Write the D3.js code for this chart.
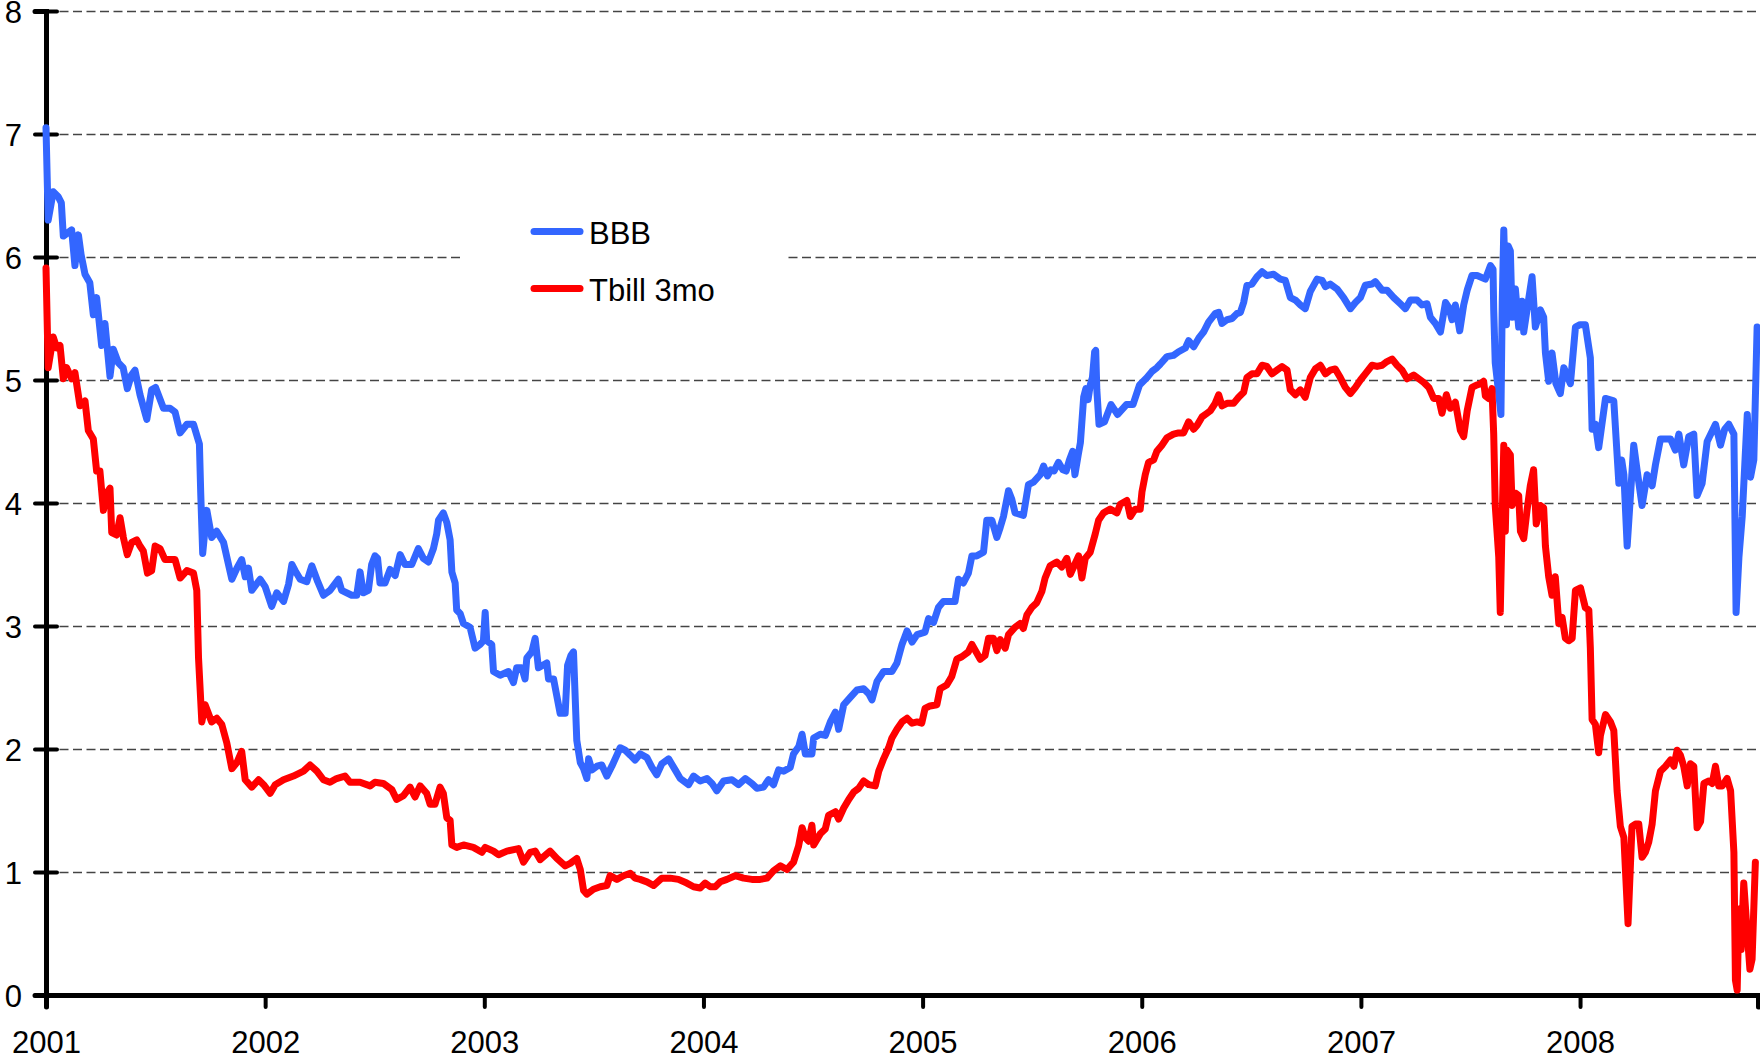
<!DOCTYPE html>
<html>
<head>
<meta charset="utf-8">
<script src="https://cdn.jsdelivr.net/npm/d3@7"></script>
<style>
  html, body { margin: 0; padding: 0; background: #fff; }
  svg { display: block; font-family: "Liberation Sans", Arial, sans-serif; }
</style>
</head>
<body>
<div id="chart"></div>
<script>
// ============================================
// BBB vs 3-month T-bill yields, 2001-2008
// ============================================

// x: decimal year, y: percent
const bbbYears = [
  2001.00, 2001.01, 2001.033, 2001.056, 2001.07, 2001.079, 2001.117, 2001.132, 2001.148, 2001.16,
  2001.178, 2001.20, 2001.216, 2001.231, 2001.254, 2001.269, 2001.292, 2001.307, 2001.33, 2001.352,
  2001.371, 2001.39, 2001.406, 2001.429, 2001.46, 2001.482, 2001.50, 2001.536, 2001.566, 2001.589,
  2001.612, 2001.643, 2001.673, 2001.70, 2001.706, 2001.715, 2001.734, 2001.756, 2001.779, 2001.81,
  2001.848, 2001.871, 2001.893, 2001.909, 2001.924, 2001.939, 2001.977, 2002.00, 2002.03, 2002.053,
  2002.084, 2002.107, 2002.122, 2002.137, 2002.16, 2002.19, 2002.213, 2002.24, 2002.266, 2002.296,
  2002.334, 2002.349, 2002.395, 2002.418, 2002.433, 2002.448, 2002.471, 2002.486, 2002.501, 2002.513,
  2002.524, 2002.547, 2002.57, 2002.593, 2002.616, 2002.638, 2002.669, 2002.699, 2002.722, 2002.745,
  2002.768, 2002.783, 2002.791, 2002.813, 2002.829, 2002.844, 2002.852, 2002.867, 2002.874, 2002.89,
  2002.905, 2002.935, 2002.958, 2002.981, 2002.996, 2003.004, 2003.011, 2003.034, 2003.042, 2003.072,
  2003.11, 2003.133, 2003.148, 2003.171, 2003.186, 2003.194, 2003.217, 2003.232, 2003.247, 2003.285,
  2003.293, 2003.316, 2003.331, 2003.346, 2003.369, 2003.38, 2003.395, 2003.407, 2003.422, 2003.438,
  2003.453, 2003.468, 2003.476, 2003.491, 2003.514, 2003.536, 2003.559, 2003.582, 2003.605, 2003.62,
  2003.643, 2003.666, 2003.688, 2003.711, 2003.742, 2003.765, 2003.787, 2003.81, 2003.841, 2003.871,
  2003.894, 2003.932, 2003.955, 2003.985, 2004.016, 2004.039, 2004.061, 2004.092, 2004.13, 2004.16,
  2004.191, 2004.221, 2004.244, 2004.274, 2004.297, 2004.32, 2004.343, 2004.366, 2004.396, 2004.411,
  2004.435, 2004.45, 2004.465, 2004.495, 2004.503, 2004.533, 2004.556, 2004.579, 2004.602, 2004.617,
  2004.64, 2004.67, 2004.701, 2004.731, 2004.754, 2004.769, 2004.792, 2004.822, 2004.86, 2004.883,
  2004.906, 2004.929, 2004.952, 2004.975, 2005.011, 2005.027, 2005.05, 2005.072, 2005.095, 2005.126,
  2005.148, 2005.164, 2005.186, 2005.209, 2005.225, 2005.247, 2005.278, 2005.293, 2005.316, 2005.339,
  2005.354, 2005.369, 2005.392, 2005.407, 2005.422, 2005.46, 2005.483, 2005.506, 2005.537, 2005.552,
  2005.57, 2005.585, 2005.60, 2005.62, 2005.64, 2005.655, 2005.67, 2005.685, 2005.695, 2005.71,
  2005.72, 2005.735, 2005.745, 2005.755, 2005.765, 2005.775, 2005.785, 2005.79, 2005.795, 2005.805,
  2005.83, 2005.86, 2005.89, 2005.93, 2005.96, 2005.99, 2006.024, 2006.047, 2006.069, 2006.085,
  2006.115, 2006.145, 2006.168, 2006.199, 2006.214, 2006.237, 2006.26, 2006.282, 2006.305, 2006.335,
  2006.351, 2006.366, 2006.389, 2006.412, 2006.434, 2006.45, 2006.465, 2006.48, 2006.503, 2006.526,
  2006.549, 2006.571, 2006.602, 2006.632, 2006.655, 2006.678, 2006.701, 2006.724, 2006.746, 2006.769,
  2006.80, 2006.823, 2006.838, 2006.86, 2006.891, 2006.921, 2006.952, 2006.975, 2006.998, 2007.02,
  2007.051, 2007.066, 2007.097, 2007.119, 2007.15, 2007.18, 2007.203, 2007.226, 2007.256, 2007.279,
  2007.302, 2007.317, 2007.34, 2007.363, 2007.386, 2007.401, 2007.416, 2007.431, 2007.451, 2007.469,
  2007.485, 2007.507, 2007.53, 2007.568, 2007.591, 2007.603, 2007.606, 2007.613, 2007.629, 2007.639,
  2007.645, 2007.652, 2007.664, 2007.672, 2007.682, 2007.69, 2007.705, 2007.72, 2007.735, 2007.743,
  2007.758, 2007.781, 2007.796, 2007.819, 2007.834, 2007.842, 2007.857, 2007.872, 2007.89, 2007.91,
  2007.926, 2007.956, 2007.979, 2008.00, 2008.024, 2008.047, 2008.055, 2008.07, 2008.085, 2008.116,
  2008.154, 2008.177, 2008.19, 2008.20, 2008.215, 2008.245, 2008.26, 2008.283, 2008.306, 2008.329,
  2008.344, 2008.367, 2008.39, 2008.413, 2008.435, 2008.451, 2008.473, 2008.496, 2008.519, 2008.534,
  2008.557, 2008.58, 2008.618, 2008.641, 2008.66, 2008.679, 2008.702, 2008.712, 2008.725, 2008.74,
  2008.763, 2008.778, 2008.793, 2008.808
];
const bbbValues = [
  7.05, 6.30, 6.53, 6.49, 6.44, 6.17, 6.22, 5.93, 6.18, 6.02,
  5.86, 5.79, 5.53, 5.67, 5.28, 5.46, 5.03, 5.25, 5.14, 5.10,
  4.93, 5.04, 5.08, 4.88, 4.68, 4.92, 4.94, 4.77, 4.77, 4.74,
  4.57, 4.64, 4.64, 4.48, 4.08, 3.59, 3.94, 3.72, 3.77, 3.68,
  3.38, 3.47, 3.54, 3.40, 3.47, 3.29, 3.38, 3.32, 3.16, 3.27,
  3.20, 3.34, 3.50, 3.45, 3.38, 3.36, 3.49, 3.36, 3.25, 3.29,
  3.38, 3.29, 3.25, 3.25, 3.44, 3.27, 3.29, 3.50, 3.57, 3.55,
  3.35, 3.35, 3.46, 3.41, 3.58, 3.50, 3.50, 3.63, 3.55, 3.52,
  3.63, 3.75, 3.86, 3.92, 3.84, 3.70, 3.44, 3.35, 3.13, 3.10,
  3.02, 2.99, 2.82, 2.85, 2.88, 3.11, 2.88, 2.85, 2.63, 2.60,
  2.63, 2.54, 2.66, 2.66, 2.57, 2.74, 2.79, 2.90, 2.66, 2.70,
  2.57, 2.57, 2.43, 2.29, 2.29, 2.68, 2.76, 2.79, 2.07, 1.89,
  1.84, 1.76, 1.92, 1.83, 1.86, 1.87, 1.78, 1.86, 1.95, 2.01,
  1.99, 1.95, 1.91, 1.96, 1.93, 1.85, 1.79, 1.88, 1.92, 1.83,
  1.76, 1.71, 1.78, 1.74, 1.76, 1.72, 1.66, 1.74, 1.75, 1.71,
  1.76, 1.72, 1.68, 1.69, 1.75, 1.71, 1.83, 1.82, 1.85, 1.96,
  2.02, 2.12, 1.96, 1.96, 2.09, 2.12, 2.11, 2.22, 2.30, 2.16,
  2.36, 2.42, 2.48, 2.49, 2.45, 2.40, 2.55, 2.63, 2.63, 2.70,
  2.85, 2.96, 2.87, 2.93, 2.95, 3.06, 3.03, 3.15, 3.20, 3.20,
  3.20, 3.38, 3.35, 3.43, 3.57, 3.57, 3.60, 3.86, 3.86, 3.72,
  3.80, 3.89, 4.10, 4.03, 3.92, 3.90, 4.15, 4.17, 4.23, 4.30,
  4.22, 4.27, 4.26, 4.33, 4.27, 4.26, 4.35, 4.42, 4.23, 4.39,
  4.49, 4.86, 4.93, 4.84, 4.96, 5.02, 5.23, 5.24, 4.92, 4.64,
  4.66, 4.80, 4.72, 4.80, 4.80, 4.96, 5.02, 5.07, 5.10, 5.13,
  5.19, 5.20, 5.23, 5.26, 5.32, 5.27, 5.34, 5.39, 5.47, 5.54,
  5.55, 5.46, 5.49, 5.50, 5.54, 5.55, 5.63, 5.77, 5.78, 5.84,
  5.88, 5.85, 5.86, 5.82, 5.81, 5.67, 5.65, 5.61, 5.58, 5.72,
  5.82, 5.81, 5.76, 5.78, 5.74, 5.67, 5.58, 5.63, 5.67, 5.77,
  5.78, 5.80, 5.73, 5.73, 5.67, 5.62, 5.58, 5.65, 5.65, 5.61,
  5.62, 5.51, 5.46, 5.39, 5.63, 5.59, 5.49, 5.61, 5.40, 5.61,
  5.73, 5.85, 5.85, 5.82, 5.93, 5.90, 5.57, 5.14, 4.89, 4.72,
  5.64, 6.22, 5.45, 6.09, 6.05, 5.51, 5.74, 5.43, 5.64, 5.39,
  5.57, 5.84, 5.43, 5.57, 5.51, 5.22, 4.99, 5.22, 4.97, 4.89,
  5.10, 4.97, 5.43, 5.45, 5.45, 5.18, 4.60, 4.64, 4.45, 4.85,
  4.83, 4.16, 4.35, 4.23, 3.65, 4.47, 4.27, 3.98, 4.23, 4.14,
  4.31, 4.52, 4.52, 4.52, 4.43, 4.56, 4.31, 4.54, 4.56, 4.06,
  4.16, 4.50, 4.64, 4.47, 4.60, 4.64, 4.56, 3.11, 3.56, 3.89,
  4.72, 4.21, 4.35, 5.43
];

const tbillYears = [
  2001.00, 2001.01, 2001.033, 2001.049, 2001.064, 2001.079, 2001.094, 2001.117, 2001.132, 2001.155,
  2001.178, 2001.193, 2001.216, 2001.231, 2001.246, 2001.262, 2001.277, 2001.292, 2001.30, 2001.322,
  2001.338, 2001.353, 2001.371, 2001.391, 2001.414, 2001.429, 2001.444, 2001.463, 2001.482, 2001.498,
  2001.52, 2001.543, 2001.566, 2001.589, 2001.612, 2001.643, 2001.673, 2001.688, 2001.696, 2001.711,
  2001.726, 2001.756, 2001.779, 2001.802, 2001.825, 2001.848, 2001.871, 2001.893, 2001.909, 2001.939,
  2001.97, 2001.993, 2002.023, 2002.046, 2002.084, 2002.129, 2002.175, 2002.205, 2002.236, 2002.266,
  2002.296, 2002.326, 2002.364, 2002.387, 2002.433, 2002.479, 2002.501, 2002.539, 2002.578, 2002.60,
  2002.631, 2002.661, 2002.684, 2002.707, 2002.737, 2002.753, 2002.775, 2002.798, 2002.813, 2002.829,
  2002.844, 2002.852, 2002.874, 2002.905, 2002.95, 2002.989, 2003.004, 2003.042, 2003.065, 2003.103,
  2003.156, 2003.179, 2003.209, 2003.232, 2003.255, 2003.30, 2003.331, 2003.369, 2003.392, 2003.422,
  2003.438, 2003.453, 2003.468, 2003.498, 2003.529, 2003.559, 2003.574, 2003.605, 2003.635, 2003.666,
  2003.688, 2003.711, 2003.742, 2003.772, 2003.81, 2003.848, 2003.886, 2003.924, 2003.955, 2003.985,
  2004.008, 2004.031, 2004.054, 2004.077, 2004.107, 2004.145, 2004.183, 2004.221, 2004.259, 2004.29,
  2004.32, 2004.351, 2004.381, 2004.411, 2004.434, 2004.45, 2004.465, 2004.48, 2004.495, 2004.503,
  2004.533, 2004.556, 2004.571, 2004.602, 2004.617, 2004.64, 2004.663, 2004.686, 2004.708, 2004.731,
  2004.754, 2004.784, 2004.80, 2004.822, 2004.845, 2004.86, 2004.883, 2004.906, 2004.929, 2004.952,
  2004.975, 2004.996, 2005.011, 2005.034, 2005.065, 2005.08, 2005.11, 2005.133, 2005.156, 2005.179,
  2005.209, 2005.225, 2005.247, 2005.263, 2005.285, 2005.301, 2005.323, 2005.339, 2005.354, 2005.377,
  2005.392, 2005.422, 2005.445, 2005.46, 2005.476, 2005.498, 2005.521, 2005.544, 2005.559, 2005.582,
  2005.612, 2005.635, 2005.658, 2005.674, 2005.689, 2005.712, 2005.727, 2005.742, 2005.765, 2005.788,
  2005.803, 2005.826, 2005.856, 2005.887, 2005.902, 2005.932, 2005.948, 2005.97, 2005.993, 2006.001,
  2006.016, 2006.031, 2006.054, 2006.069, 2006.092, 2006.115, 2006.145, 2006.168, 2006.191, 2006.214,
  2006.237, 2006.252, 2006.275, 2006.298, 2006.313, 2006.335, 2006.351, 2006.366, 2006.389, 2006.419,
  2006.442, 2006.465, 2006.48, 2006.503, 2006.526, 2006.549, 2006.571, 2006.594, 2006.617, 2006.64,
  2006.663, 2006.678, 2006.701, 2006.724, 2006.746, 2006.769, 2006.792, 2006.815, 2006.838, 2006.86,
  2006.883, 2006.906, 2006.929, 2006.952, 2006.975, 2006.998, 2007.02, 2007.051, 2007.074, 2007.097,
  2007.119, 2007.142, 2007.165, 2007.188, 2007.211, 2007.241, 2007.264, 2007.287, 2007.31, 2007.332,
  2007.355, 2007.37, 2007.39, 2007.408, 2007.431, 2007.454, 2007.469, 2007.485, 2007.507, 2007.53,
  2007.545, 2007.56, 2007.568, 2007.583, 2007.598, 2007.606, 2007.613, 2007.629, 2007.636, 2007.644,
  2007.652, 2007.659, 2007.667, 2007.682, 2007.69, 2007.705, 2007.72, 2007.728, 2007.743, 2007.758,
  2007.773, 2007.788, 2007.80, 2007.819, 2007.834, 2007.842, 2007.857, 2007.872, 2007.887, 2007.903,
  2007.918, 2007.933, 2007.948, 2007.964, 2007.979, 2008.002, 2008.024, 2008.04, 2008.047, 2008.055,
  2008.07, 2008.085, 2008.093, 2008.116, 2008.139, 2008.154, 2008.169, 2008.184, 2008.20, 2008.219,
  2008.237, 2008.253, 2008.268, 2008.283, 2008.298, 2008.313, 2008.329, 2008.344, 2008.367, 2008.39,
  2008.413, 2008.428, 2008.443, 2008.458, 2008.473, 2008.489, 2008.504, 2008.519, 2008.534, 2008.55,
  2008.565, 2008.588, 2008.603, 2008.618, 2008.633, 2008.649, 2008.671, 2008.687, 2008.702, 2008.709,
  2008.717, 2008.725, 2008.735, 2008.747, 2008.763, 2008.775, 2008.785, 2008.80
];
const tbillValues = [
  5.91, 5.10, 5.35, 5.26, 5.28, 5.01, 5.10, 5.01, 5.06, 4.79,
  4.83, 4.59, 4.52, 4.26, 4.26, 3.94, 4.08, 4.12, 3.76, 3.74,
  3.88, 3.72, 3.58, 3.68, 3.70, 3.65, 3.61, 3.43, 3.45, 3.65,
  3.63, 3.54, 3.54, 3.54, 3.39, 3.45, 3.43, 3.29, 2.74, 2.22,
  2.36, 2.22, 2.25, 2.20, 2.05, 1.84, 1.89, 1.98, 1.75, 1.69,
  1.75, 1.71, 1.64, 1.71, 1.75, 1.78, 1.82, 1.87, 1.82, 1.75,
  1.73, 1.76, 1.78, 1.73, 1.73, 1.70, 1.73, 1.72, 1.67, 1.59,
  1.62, 1.69, 1.61, 1.70, 1.64, 1.55, 1.55, 1.69, 1.64, 1.44,
  1.42, 1.22, 1.20, 1.22, 1.20, 1.16, 1.20, 1.17, 1.14, 1.17,
  1.19, 1.08, 1.16, 1.17, 1.10, 1.17, 1.11, 1.05, 1.07, 1.11,
  1.02, 0.85, 0.82, 0.86, 0.88, 0.89, 0.97, 0.94, 0.97, 0.99,
  0.95, 0.94, 0.92, 0.89, 0.95, 0.95, 0.94, 0.91, 0.88, 0.87,
  0.91, 0.88, 0.88, 0.92, 0.94, 0.97, 0.95, 0.94, 0.94, 0.95,
  1.01, 1.05, 1.02, 1.08, 1.21, 1.36, 1.28, 1.25, 1.38, 1.22,
  1.31, 1.35, 1.46, 1.49, 1.43, 1.52, 1.59, 1.65, 1.68, 1.74,
  1.71, 1.70, 1.82, 1.92, 2.01, 2.09, 2.16, 2.22, 2.25, 2.21,
  2.22, 2.21, 2.33, 2.35, 2.36, 2.49, 2.52, 2.59, 2.73, 2.75,
  2.79, 2.85, 2.78, 2.73, 2.76, 2.90, 2.90, 2.80, 2.89, 2.82,
  2.93, 2.99, 3.02, 2.98, 3.09, 3.15, 3.19, 3.28, 3.39, 3.49,
  3.52, 3.48, 3.55, 3.42, 3.48, 3.57, 3.39, 3.55, 3.60, 3.75,
  3.86, 3.92, 3.95, 3.92, 3.99, 4.02, 3.89, 3.95, 3.95, 4.09,
  4.23, 4.33, 4.35, 4.42, 4.47, 4.53, 4.56, 4.57, 4.57, 4.66,
  4.60, 4.63, 4.70, 4.73, 4.75, 4.81, 4.88, 4.79, 4.81, 4.81,
  4.86, 4.90, 5.02, 5.05, 5.05, 5.12, 5.11, 5.05, 5.08, 5.11,
  5.08, 4.92, 4.88, 4.92, 4.86, 5.02, 5.09, 5.12, 5.05, 5.08,
  5.09, 5.02, 4.94, 4.89, 4.94, 5.00, 5.05, 5.12, 5.11, 5.12,
  5.15, 5.17, 5.12, 5.08, 5.01, 5.04, 5.01, 4.98, 4.94, 4.85,
  4.85, 4.73, 4.88, 4.77, 4.82, 4.59, 4.54, 4.75, 4.94, 4.96,
  4.97, 4.99, 4.87, 4.85, 4.93, 4.56, 3.98, 3.56, 3.11, 3.81,
  4.47, 3.77, 4.43, 4.39, 3.98, 4.08, 4.06, 3.77, 3.71, 3.94,
  4.14, 4.27, 3.83, 3.98, 3.96, 3.65, 3.40, 3.25, 3.40, 3.02,
  3.07, 2.90, 2.88, 2.90, 3.29, 3.31, 3.15, 3.13, 2.82, 2.24,
  2.20, 1.97, 2.11, 2.28, 2.22, 2.15, 1.66, 1.37, 1.28, 0.58,
  1.37, 1.39, 1.39, 1.12, 1.16, 1.24, 1.39, 1.66, 1.82, 1.86,
  1.91, 1.86, 1.99, 1.95, 1.86, 1.70, 1.88, 1.86, 1.36, 1.41,
  1.72, 1.74, 1.72, 1.86, 1.70, 1.70, 1.76, 1.66, 1.16, 0.12,
  0.04, 0.70, 0.37, 0.91, 0.50, 0.21, 0.29, 1.08
];

const yearTicks = [2001, 2002, 2003, 2004, 2005, 2006, 2007, 2008];
const valueTicks = [0, 1, 2, 3, 4, 5, 6, 7, 8];
const seriesNames = ['BBB', 'Tbill 3mo'];
const seriesColors = ['#3366ff', '#ff0000'];

// 차트 크기
const W = 1760, H = 1061;
const plot = { left: 46, right: 1758, top: 11, bottom: 995 };

const svg = d3.select('#chart')
    .append('svg')
    .attr('width', W)
    .attr('height', H);

const x = d3.scaleLinear()
    .domain([2001, 2008.812])
    .range([plot.left, plot.right]);

const y = d3.scaleLinear()
    .domain([0, 8])
    .range([plot.bottom, plot.top]);

// 그리드 (dashed)
svg.append('g')
    .selectAll('line')
    .data(valueTicks.filter(v => v > 0))
    .enter()
    .append('line')
    .attr('x1', plot.left)
    .attr('x2', W)
    .attr('y1', d => Math.round(y(d)) + 0.5)
    .attr('y2', d => Math.round(y(d)) + 0.5)
    .attr('stroke', '#444')
    .attr('stroke-width', 1.3)
    .attr('stroke-dasharray', '9,4.5');

// Y axis
const yAxis = svg.append('g')
    .attr('transform', `translate(${plot.left},0)`)
    .call(d3.axisLeft(y)
        .tickValues(valueTicks)
        .tickFormat(d3.format('d'))
        .tickSizeOuter(0)
        .tickSize(11)
        .tickPadding(13));
yAxis.select('.domain')
    .attr('stroke', '#000')
    .attr('stroke-width', 5)
    .attr('stroke-linecap', 'round');
yAxis.selectAll('.tick line')
    .attr('x1', 11)
    .attr('x2', -11)
    .attr('stroke', '#000')
    .attr('stroke-width', 4)
    .attr('stroke-linecap', 'round');
yAxis.selectAll('.tick text')
    .style('font-size', '31px')
    .attr('fill', '#000')
    .attr('dy', '0.36em');

// X axis
const xAxis = svg.append('g')
    .attr('transform', `translate(0,${plot.bottom})`)
    .call(d3.axisBottom(x)
        .tickValues(yearTicks)
        .tickFormat(d3.format('d'))
        .tickSizeOuter(0)
        .tickSize(12)
        .tickPadding(24));
xAxis.select('.domain')
    .attr('stroke', '#000')
    .attr('stroke-width', 5)
    .attr('stroke-linecap', 'round');
xAxis.selectAll('.tick line')
    .attr('stroke', '#000')
    .attr('stroke-width', 4)
    .attr('stroke-linecap', 'round');
xAxis.selectAll('.tick text')
    .style('font-size', '31px')
    .attr('fill', '#000');

// 라인
const series = [
    { name: seriesNames[0], color: seriesColors[0], xs: bbbYears, ys: bbbValues },
    { name: seriesNames[1], color: seriesColors[1], xs: tbillYears, ys: tbillValues }
];

const line = d3.line()
    .x(d => x(d[0]))
    .y(d => y(d[1]));

series.forEach(s => {
    svg.append('path')
        .datum(d3.zip(s.xs, s.ys))
        .attr('fill', 'none')
        .attr('stroke', s.color)
        .attr('stroke-width', 7)
        .attr('stroke-linejoin', 'round')
        .attr('stroke-linecap', 'round')
        .attr('d', line);
});

// 범례
const legend = svg.append('g');
legend.append('rect')
    .attr('x', 463)
    .attr('y', 195)
    .attr('width', 323)
    .attr('height', 125)
    .attr('fill', '#fff');

series.forEach((s, i) => {
    const g = legend.append('g')
        .attr('transform', `translate(0, ${231.5 + i * 57})`);
    g.append('line')
        .attr('x1', 534)
        .attr('x2', 580)
        .attr('stroke', s.color)
        .attr('stroke-width', 7)
        .attr('stroke-linecap', 'round');
    g.append('text')
        .attr('x', 589)
        .attr('y', 12)
        .style('font-size', '31px')
        .attr('fill', '#000')
        .text(s.name);
});
</script>
</body>
</html>
